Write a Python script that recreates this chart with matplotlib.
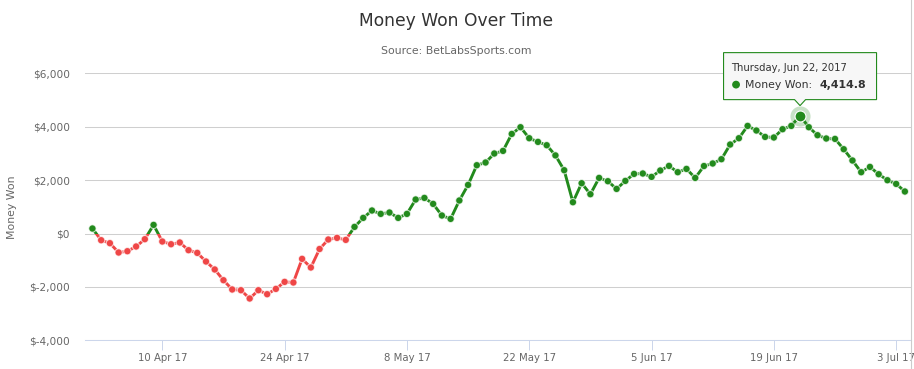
"""
Money won over time - BetLabsSports
"""

import matplotlib
matplotlib.use("Agg")
import matplotlib.pyplot as plt
import matplotlib.dates as mdates
import matplotlib.transforms as mtransforms
from matplotlib.patches import Rectangle, Polygon, Circle
from matplotlib.lines import Line2D
from matplotlib.ticker import FuncFormatter
import numpy as np
import pandas as pd

# donnees (un point par jour)
dates = pd.date_range("2017-04-02", "2017-07-04", freq="D")
money_won = [
    187, -251, -363, -712, -663, -487, -213, 322, -300, -401,
    -337, -625, -726, -1049, -1348, -1749, -2097, -2124, -2434, -2124,
    -2273, -2075, -1812, -1835, -950, -1273, -580, -225, -164, -239,
    248, 585, 861, 735, 786, 585, 735, 1273, 1333, 1109,
    674, 547, 1236, 1820, 2558, 2659, 2996, 3094, 3730, 3981,
    3569, 3431, 3307, 2925, 2371, 1172, 1884, 1472, 2082, 1959,
    1670, 1970, 2232, 2247, 2120, 2360, 2532, 2296, 2419, 2082,
    2527, 2622, 2783, 3333, 3569, 4030, 3858, 3618, 3596, 3906,
    4030, 4414.8, 3981, 3682, 3558, 3543, 3157, 2734, 2296, 2494,
    2221, 1996, 1858, 1573,
]
tick_dates = ["2017-04-10", "2017-04-24", "2017-05-08", "2017-05-22",
              "2017-06-05", "2017-06-19", "2017-07-03"]
tick_labels = ["10 Apr 17", "24 Apr 17", "8 May 17", "22 May 17",
               "5 Jun 17", "19 Jun 17", "3 Jul 17"]
y_ticks = [-4000, -2000, 0, 2000, 4000, 6000]
highlight_date = "2017-06-22"
highlight_label = "Thursday, Jun 22, 2017"

green = "#228a1c"
red = "#ef4646"
W, H = 914, 369

fig = plt.figure(figsize=(W / 100, H / 100), dpi=100)
ax = fig.add_axes([85 / W, 1 - 340.3 / H, 826 / W, 267 / H])

x = mdates.date2num(dates)
y = np.array(money_won, dtype=float)

# ligne : verte au dessus de 0, rouge en dessous
for col, lo, hi in ((green, 0, 1e5), (red, -1e5, 0)):
    ln, = ax.plot(x, y, color=col, lw=2.1, zorder=3, solid_joinstyle="round")
    clip = Rectangle((x[0] - 10, lo), x[-1] - x[0] + 20, hi - lo, transform=ax.transData)
    ln.set_clip_path(clip)

cols = np.where(y >= 0, green, red)
ax.scatter(x, y, s=28, c=cols, edgecolors=(1, 1, 1, 0.7), linewidths=0.8, zorder=4)

# point survole
hx = mdates.date2num(pd.Timestamp(highlight_date))
hy = y[dates == pd.Timestamp(highlight_date)][0]
ax.scatter([hx], [hy], s=210, color=green, alpha=0.25, lw=0, zorder=5)
ax.scatter([hx], [hy], s=62, color=green, edgecolors="white", linewidths=0.8, zorder=6)

# axes
ax.set_xlim(x[0] - 0.85, x[-1] + 0.7)
ax.set_ylim(y_ticks[0], y_ticks[-1])
ax.set_xticks(mdates.date2num(pd.to_datetime(tick_dates)))
ax.set_xticklabels(tick_labels)
ax.set_yticks(y_ticks)
ax.yaxis.set_major_formatter(FuncFormatter(lambda v, p: "$" + format(int(v), ",")))
ax.tick_params(axis="x", length=7.2, width=0.72, color="#ccd6eb",
               labelsize=7.3, labelcolor="#666666", pad=2)
ax.tick_params(axis="y", length=0, labelsize=7.6, labelcolor="#666666", pad=10.8)
ax.yaxis.grid(True, color="#cfcfcf", lw=0.75)
ax.set_axisbelow(True)
for s in ("left", "top", "right"):
    ax.spines[s].set_visible(False)
ax.spines["bottom"].set_color("#ccd6eb")
ax.spines["bottom"].set_linewidth(0.75)

# titres
fig.text(456 / W, 1 - 20.7 / H, "Money Won Over Time", ha="center", va="center",
         fontsize=12.3, color="#333333")
fig.text(456 / W, 1 - 51 / H, "Source: BetLabsSports.com", ha="center", va="center",
         fontsize=7.8, color="#666666")
fig.text(12 / W, 1 - 206.8 / H, "Money Won", rotation=90, ha="center", va="center",
         fontsize=7.8, color="#666666")

# bordure droite
fig.add_artist(Line2D([911 / W, 911 / W], [0, 1], transform=fig.transFigure,
                      color="#cccccc", lw=0.8))

# infobulle (coordonnees en pixels autour du point)
anchor = mtransforms.IdentityTransform() + mtransforms.ScaledTranslation(hx, hy, ax.transData)
box = Polygon([(-76.5, 16), (-5.5, 16), (0, 10), (5.5, 16), (76.5, 16), (76.5, 63), (-76.5, 63)],
              closed=True, transform=anchor, facecolor="#f7f7f7", edgecolor=green,
              lw=0.8, zorder=10)
fig.add_artist(box)
fig.add_artist(Circle((-64, 31), 3.2, transform=anchor, color=green, zorder=11))
fig.text(-68.5, 48, highlight_label, transform=anchor, ha="left", va="center",
         fontsize=7.2, color="#333333", zorder=11)
fig.text(-55, 31, "Money Won: ", transform=anchor, ha="left", va="center",
         fontsize=7.8, color="#333333", zorder=11)
fig.text(66, 31, format(hy, ",.1f"), transform=anchor, ha="right", va="center",
         fontsize=7.9, fontweight="bold", color="#333333", zorder=11)

fig.savefig("out.png", dpi=100)
